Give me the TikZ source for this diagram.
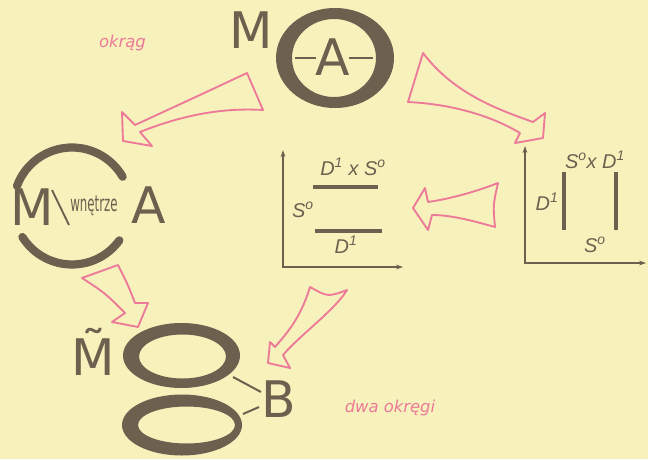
\documentclass[tikz,border=0pt]{standalone}
\usepackage{fontspec}
\usepackage{graphicx}
\setmainfont{DejaVu Sans}
\newfontfamily\labfont{Liberation Sans}
\usetikzlibrary{arrows.meta}
\definecolor{bg}{RGB}{247,241,188}
\definecolor{ink}{RGB}{108,96,78}
\definecolor{rose}{RGB}{236,122,152}
\begin{document}
\begin{tikzpicture}[x=0.3mm,y=-0.3mm,
  big/.style={text=ink, font=\fontsize{43}{43}\selectfont, inner sep=0pt, anchor=base},
  lab/.style={text=ink, font=\labfont\itshape\fontsize{17}{17}\selectfont, inner sep=0pt, anchor=base},
  smalltxt/.style={text=ink, font=\fontsize{19}{19}\selectfont, inner sep=0pt, anchor=base},
  pinklab/.style={text=rose, font=\itshape\fontsize{14}{14}\selectfont, inner sep=0pt, anchor=base},
  parrow/.style={draw=rose, line width=1.6pt, line join=round},
  axis/.style={draw=ink, line width=1.2pt, {Stealth[length=6pt,width=4pt]}-{Stealth[length=6pt,width=4pt]}},
  bar/.style={draw=ink, line width=2.6pt},
  thinline/.style={draw=ink, line width=1.3pt},
  arcline/.style={draw=ink, line width=7pt, line cap=round},
  ring/.style={fill=ink, even odd rule},
]
\useasboundingbox (0,0) rectangle (648,459);
\fill[bg] (0,0) rectangle (648,459);

% top circle
\fill[ring] (335,58) ellipse[x radius=59, y radius=50] (334,58) ellipse[x radius=42, y radius=39];
\node[big] (Mtop) at (251.5,48) {M};
\node[big] (Atop) at (333,75) {A};
\coordinate (l1a) at (295,58); \coordinate (l1b) at (316,58);
\coordinate (l2a) at (349,58); \coordinate (l2b) at (373,58);
\draw[thinline] (l1a) -- (l1b);
\draw[thinline] (l2a) -- (l2b);
\node[pinklab] (okrag) at (122.5,47) {okrąg};

% left figure
\draw[arcline] (72,206) ++(-160:58.5) arc[start angle=-160, end angle=-30, radius=58.5];
\draw[arcline] (72,206) ++(148:58.5) arc[start angle=148, end angle=36, radius=58.5];
\node[big] (Mleft) at (32.5,225) {M};
\node[big] (Aleft) at (149,223) {A};
\node[smalltxt] (wn) at (94,211) {\scalebox{0.53}[1]{wnętrze}};
\coordinate (bs1) at (52,190); \coordinate (bs2) at (69,225);
\draw[thinline, line width=1.6pt] (bs1) -- (bs2);

% middle graph
\coordinate (o1) at (283,267); \coordinate (y1) at (283,150); \coordinate (x1) at (403,267);
\draw[axis] (y1) -- (o1) -- (x1);
\coordinate (m1a) at (313,187); \coordinate (m1b) at (378,187);
\coordinate (m2a) at (315,231); \coordinate (m2b) at (382,231);
\draw[bar] (m1a) -- (m1b);
\draw[bar] (m2a) -- (m2b);
\node[lab] (mlab1) at (353,175) {D\textsuperscript{1} x S\textsuperscript{o}};
\node[lab] (mlab2) at (303,217) {S\textsuperscript{o}};
\node[lab] (mlab3) at (346,253) {D\textsuperscript{1}};

% right graph
\coordinate (o2) at (525,263); \coordinate (y2) at (525,146); \coordinate (x2) at (646,263);
\draw[axis] (y2) -- (o2) -- (x2);
\coordinate (r1a) at (564,172); \coordinate (r1b) at (564,230);
\coordinate (r2a) at (616,172); \coordinate (r2b) at (616,230);
\draw[bar] (r1a) -- (r1b);
\draw[bar] (r2a) -- (r2b);
\node[lab] (rlab1) at (595,168) {S\textsuperscript{o}x D\textsuperscript{1}};
\node[lab] (rlab2) at (547,210) {D\textsuperscript{1}};
\node[lab] (rlab3) at (595,252) {S\textsuperscript{o}};

% bottom figure
\fill[ring] (181.5,355.5) ellipse[x radius=58.5, y radius=32.5] (182.5,356.5) ellipse[x radius=43.5, y radius=22];
\fill[ring] (182,425) ellipse[x radius=60, y radius=30.5] (186.5,425) ellipse[x radius=48.5, y radius=18.5];
\node[big] (Mt) at (93.5,375) {\~{M}};
\node[big] (B) at (278.5,417) {B};
\coordinate (e1) at (233,377); \coordinate (b1) at (261,392);
\coordinate (e2) at (243,414); \coordinate (b2) at (259,407);
\draw[thinline, line width=1.7pt] (e1) -- (b1);
\draw[thinline, line width=1.7pt] (e2) -- (b2);
\node[pinklab] (dwa) at (390,412) {dwa okręgi};

% pink arrows
\draw[parrow] (247,73) .. controls (200,95) .. (135,125) -- (122,112) -- (123,141) -- (152,146) -- (140,132) .. controls (190,112) and (230,108) .. (263,110) -- cycle;
\draw[parrow] (423,53) .. controls (455,95) and (500,110) .. (533,122) -- (545,113) -- (543,138) -- (515,143) -- (520,133) .. controls (490,115) and (450,104) .. (408,102) -- cycle;
\draw[parrow] (413,208) -- (425,188) -- (428,202) .. controls (455,198) and (480,190) .. (498,183) .. controls (493,205) .. (495,227) .. controls (470,220) and (450,215) .. (432,215) -- (428,230) -- cycle;
\draw[parrow] (82,278) .. controls (105,293) .. (125,313) -- (112,322) -- (138,327) -- (148,303) -- (135,303) .. controls (128,285) .. (118,265) -- cycle;
\draw[parrow] (310,287) .. controls (300,320) and (285,335) .. (275,347) -- (270,342) -- (268,363) -- (290,368) -- (283,355) .. controls (300,335) and (335,310) .. (347,290) .. controls (328,297) .. (310,287) -- cycle;
\end{tikzpicture}
\end{document}
